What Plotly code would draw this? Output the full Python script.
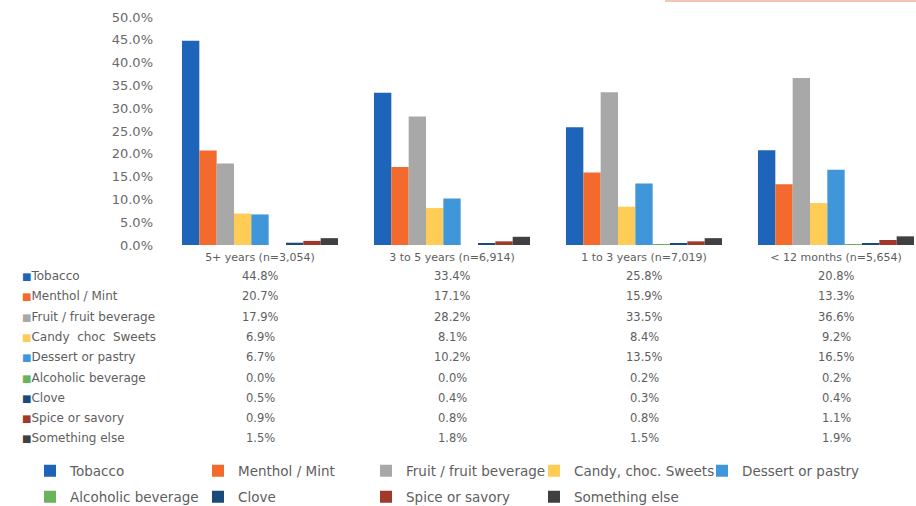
import plotly.graph_objects as go

# ---------------- data ----------------
categories = ["5+ years (n=3,054)", "3 to 5 years (n=6,914)",
              "1 to 3 years (n=7,019)", "< 12 months (n=5,654)"]
series_names = ["Tobacco", "Menthol / Mint", "Fruit / fruit beverage",
                "Candy, choc. Sweets", "Dessert or pastry", "Alcoholic beverage",
                "Clove", "Spice or savory", "Something else"]
table_labels = ["Tobacco", "Menthol / Mint", "Fruit / fruit beverage",
                "Candy  choc  Sweets", "Dessert or pastry", "Alcoholic beverage",
                "Clove", "Spice or savory", "Something else"]
tobacco = [44.8, 33.4, 25.8, 20.8]
menthol = [20.7, 17.1, 15.9, 13.3]
fruit = [17.9, 28.2, 33.5, 36.6]
candy = [6.9, 8.1, 8.4, 9.2]
dessert = [6.7, 10.2, 13.5, 16.5]
alcoholic = [0.0, 0.0, 0.2, 0.2]
clove = [0.5, 0.4, 0.3, 0.4]
spice = [0.9, 0.8, 0.8, 1.1]
something = [1.5, 1.8, 1.5, 1.9]
y_ticks = [0, 5, 10, 15, 20, 25, 30, 35, 40, 45, 50]

series_values = [tobacco, menthol, fruit, candy, dessert, alcoholic, clove, spice, something]
colors = ["#1E64B8", "#F26A2E", "#A8A8A8", "#FFCC55", "#3F97DA",
          "#6BB35B", "#1C4A7A", "#A0392C", "#404040"]

W, H = 916, 506
FONT = "DejaVu Sans"
TXT = "#5e5e5e"

fig = go.Figure()
for i, (name, vals, col) in enumerate(zip(series_names, series_values, colors)):
    fig.add_trace(go.Bar(
        x=categories, y=vals, name=name, marker=dict(color=col, line=dict(width=0)),
        legend="legend" if i < 5 else "legend2",
        hovertemplate="%{x}<br>" + name + ": %{y:.1f}%<extra></extra>",
    ))

# data table as text
annotations = []
row0, row_step = 276, 20.3
for r, (lab, vals, col) in enumerate(zip(table_labels, series_values, colors)):
    yp = 1 - (row0 + r * row_step) / H
    annotations.append(dict(
        xref="paper", yref="paper", x=20 / W, y=yp, xanchor="left", yanchor="middle",
        text=f"<span style='color:{col};font-size:10px'>■</span>{lab}", showarrow=False,
        font=dict(family=FONT, size=12, color=TXT)))
    for c, v in enumerate(vals):
        annotations.append(dict(
            xref="x", yref="paper", x=c, y=yp, xanchor="center", yanchor="middle",
            text=f"{v:.1f}%", showarrow=False,
            font=dict(family=FONT, size=11.5, color=TXT)))

x_left = 164
cat_w = 192
x_end = 3.5 - (x_left + 4 * cat_w - W) / cat_w

legend_common = dict(orientation="h", xanchor="left", yanchor="middle",
                     entrywidth=123, entrywidthmode="pixels", traceorder="normal",
                     font=dict(family=FONT, size=13.5, color=TXT),
                     bgcolor="rgba(0,0,0,0)")

fig.update_layout(
    width=W, height=H,
    margin=dict(l=0, r=0, t=0, b=0, autoexpand=False),
    paper_bgcolor="white", plot_bgcolor="white",
    barmode="group", bargap=0.1875, bargroupgap=0,
    font=dict(family=FONT, color=TXT),
    xaxis=dict(domain=[x_left / W, 1], range=[-0.5, x_end], showgrid=False,
               showline=False, zeroline=False, ticks="", automargin=False,
               ticklabelstandoff=4,
               tickfont=dict(family=FONT, size=11, color=TXT)),
    yaxis=dict(domain=[(H - 245) / H, (H - 17) / H], range=[0, 50],
               tickvals=y_ticks, ticktext=[f"{v:.1f}%" for v in y_ticks],
               showgrid=False, zeroline=False, showline=False, ticks="",
               ticklabelstandoff=10, automargin=False,
               tickfont=dict(family=FONT, size=13, color="#6a6a6a")),
    legend=dict(x=30 / W, y=1 - 471 / H, **legend_common),
    legend2=dict(x=30 / W, y=1 - 497 / H, **legend_common),
    annotations=annotations,
    shapes=[dict(type="line", xref="paper", yref="paper", x0=665 / W, x1=1,
                 y0=1 - 1 / H, y1=1 - 1 / H, line=dict(color="#f3c4ba", width=2))],
)

fig.write_html("out.html", config={"displayModeBar": False},
               post_script="document.body.style.margin='0px';")
